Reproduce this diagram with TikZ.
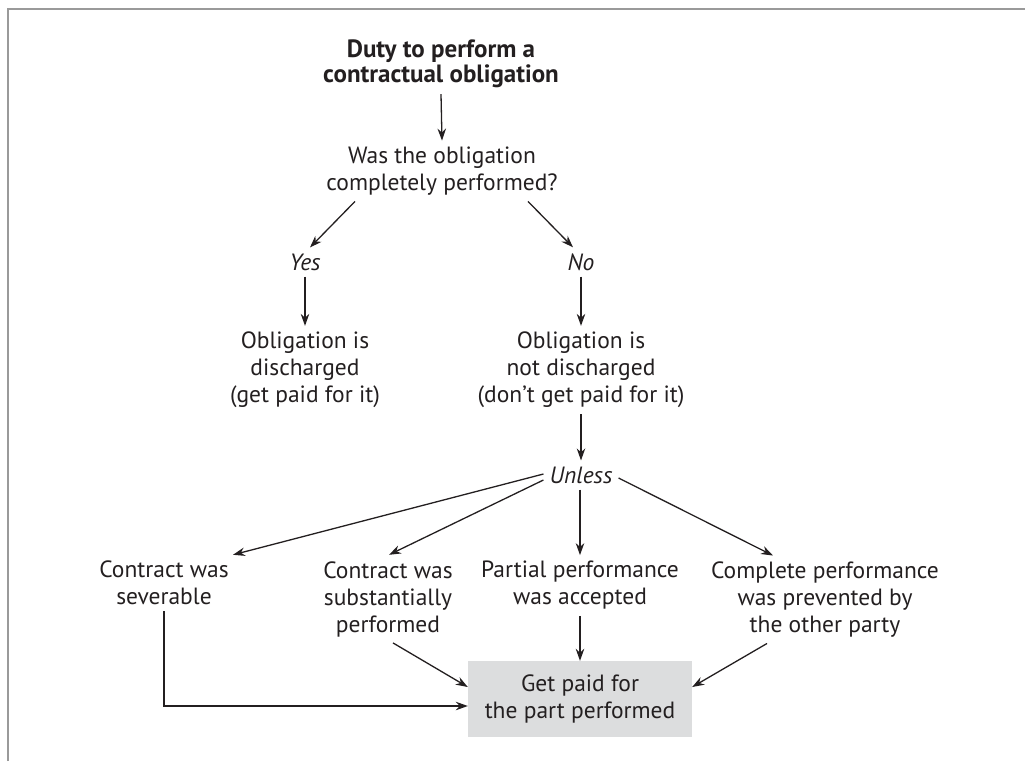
\documentclass[tikz,border=0pt]{standalone}
\usepackage{fontspec}
\setmainfont{PT Sans}
\usetikzlibrary{arrows.meta,calc}
\definecolor{ink}{HTML}{231F20}
\definecolor{framec}{HTML}{9A9A9A}
\definecolor{boxfill}{HTML}{DCDDDE}
\begin{document}
\begin{tikzpicture}[x=1pt,y=-1pt,
  txt/.style={align=center, inner sep=6pt, text=ink, font=\fontsize{23.5}{27}\selectfont},
  ttl/.style={align=center, inner sep=6pt, text=ink, font=\fontsize{25}{25}\selectfont\bfseries},
  itl/.style={inner sep=6pt, text=ink, font=\fontsize{23.5}{27}\selectfont\itshape},
  paybox/.style={txt, fill=boxfill, minimum width=224pt, minimum height=76pt, inner sep=0pt},
  arr/.style={draw=ink, line width=1.3pt, -{Stealth[length=12pt,width=8.5pt]}}]
\useasboundingbox (0,0) rectangle (1025,761);
\draw[framec, line width=2pt] (8,761) -- (8,9.3) -- (1025,9.3);

\node[ttl] (title) at (441,64) {Duty to perform a\\contractual obligation};
\node[txt] (q) at (442,171) {Was the obligation\\completely performed?};
\node[itl] (yes) at (305,262) {Yes};
\node[itl] (no) at (581,262) {No};
\node[txt] (disc) at (305,370) {Obligation is\\discharged\\(get paid for it)};
\node[txt] (ndisc) at (581,370) {Obligation is\\not discharged\\(don’t get paid for it)};
\node[itl] (unless) at (581,475) {Unless};
\node[txt] (sev) at (164,583) {Contract was\\severable};
\node[txt] (sub) at (388,599) {Contract was\\substantially\\performed};
\node[txt] (part) at (580,585.5) {Partial performance\\was accepted};
\node[txt] (comp) at (825,599.5) {Complete performance\\was prevented by\\the other party};
\node[paybox] (pay) at (580,699) {Get paid for\\the part performed};

\draw[arr] (title.south) -- (q.north);
\draw[arr] ([xshift=-87pt]q.south) -- ([xshift=5pt]yes.north);
\draw[arr] ([xshift=86pt]q.south) -- ([xshift=-8pt]no.north);
\draw[arr] (yes) -- (disc);
\draw[arr] (no) -- (ndisc);
\draw[arr] (ndisc) -- (unless);
\draw[arr] ([yshift=1pt]unless.west) -- ([xshift=69pt]sev.north);
\draw[arr] ([yshift=-5pt]unless.west) -- ([xshift=1pt]sev.north -| sub.north);
\draw[arr] (unless.south -| part.north) -- (part.north);
\draw[arr] ([yshift=-3pt]unless.east) -- ([xshift=-52pt]comp.north);
\draw[arr] (part) -- (pay);
\draw[arr] ([xshift=5pt]sub.south) -- ([yshift=12pt]pay.west);
\draw[arr] (sev.south) |- ([yshift=-7pt]pay.west);
\draw[arr] ([xshift=-58pt]comp.south) -- ([yshift=12pt]pay.east);
\end{tikzpicture}
\end{document}
